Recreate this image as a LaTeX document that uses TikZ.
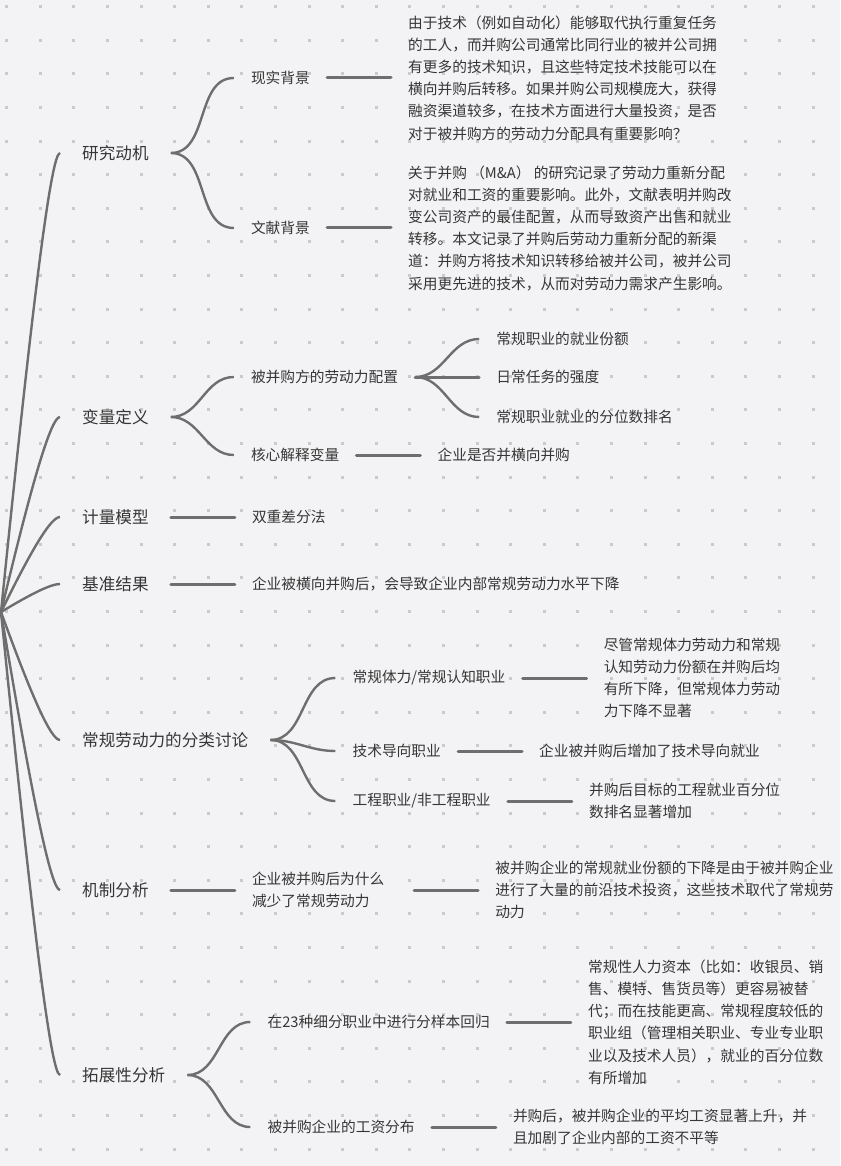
\documentclass[tikz,border=0pt]{standalone}
\usepackage{fontspec}
\setmainfont{Noto Sans CJK SC}
\usetikzlibrary{positioning, calc}
\definecolor{paper}{HTML}{F3F3F5}
\definecolor{griddot}{HTML}{CACACA}
\definecolor{lc}{HTML}{6E6E6E}
\definecolor{ink}{HTML}{363636}
\tikzset{
  topic/.style  = {anchor=west, inner xsep=22pt, inner ysep=2pt, text=ink,
                   font=\fontsize{16.6}{22}\selectfont},
  sub/.style    = {anchor=west, inner xsep=17pt, inner ysep=2pt, text=ink, align=left,
                   font=\fontsize{14.7}{22.2}\selectfont},
  branch/.style = {draw=lc, line width=2.4pt},
  link/.style   = {draw=lc, line width=3pt, line cap=round},
}

\begin{document}
\begin{tikzpicture}[x=1pt, y=-1pt, node distance=64pt]

\fill[paper] (0,0) rectangle (840,1166);
\useasboundingbox (0,0) rectangle (840,1166);
\foreach \i in {0,...,24}
  \foreach \j in {0,...,34}
    \fill[griddot] ({5.2+33.6*\i},{5.2+33.6*\j}) rectangle ++(3,3);

\coordinate (root) at (1,612);

\node[topic] (mot)  at (60,153)  {研究动机};
\node[topic] (var)  at (60,417)  {变量定义};
\node[topic] (eco)  at (60,517)  {计量模型};
\node[topic] (base) at (60,584)  {基准结果};
\node[topic] (cls)  at (60,740)  {常规劳动力的分类讨论};
\node[topic] (mech) at (60,890)  {机制分析};
\node[topic] (ext)  at (60,1075) {拓展性分析};

% 研究动机
\node[sub] (real) at ($(mot.east)+(63,-75)$) {现实背景};
\node[sub] (lit)  at ($(mot.east)+(63,75)$)  {文献背景};
\node[sub, right=of real] (realx)
  {由于技术（例如自动化）能够取代执行重复任务\\
   的工人，而并购公司通常比同行业的被并公司拥\\
   有更多的技术知识，且这些特定技术技能可以在\\
   横向并购后转移。如果并购公司规模庞大，获得\\
   融资渠道较多，在技术方面进行大量投资，是否\\
   对于被并购方的劳动力分配具有重要影响？};
\node[sub, right=of lit] (litx)
  {关于并购 （M\&A） 的研究记录了劳动力重新分配\\
   对就业和工资的重要影响。此外，文献表明并购改\\
   变公司资产的最佳配置，从而导致资产出售和就业\\
   转移。本文记录了并购后劳动力重新分配的新渠\\
   道：并购方将技术知识转移给被并公司，被并公司\\
   采用更先进的技术，从而对劳动力需求产生影响。};

% 变量定义
\node[sub] (alloc) at ($(var.east)+(63,-40)$) {被并购方的劳动力配置};
\node[sub] (core)  at ($(var.east)+(63,38)$)  {核心解释变量};
\node[sub] (alloca) at ($(alloc.east)+(64,-38)$) {常规职业的就业份额};
\node[sub, right=of alloc] (allocb) {日常任务的强度};
\node[sub] (allocc) at ($(alloc.east)+(64,40)$)  {常规职业就业的分位数排名};
\node[sub, right=of core] (corex) {企业是否并横向并购};

\node[sub, right=of eco]  (ecox)  {双重差分法};
\node[sub, right=of base] (basex) {企业被横向并购后，会导致企业内部常规劳动力水平下降};

% 常规劳动力的分类讨论
\node[sub] (clsa) at ($(cls.east)+(65,-62)$) {常规体力/常规认知职业};
\node[sub] (clsb) at ($(cls.east)+(65,11)$)  {技术导向职业};
\node[sub] (clsc) at ($(cls.east)+(65,61)$)  {工程职业/非工程职业};
\node[sub, right=of clsa] (clsax)
  {尽管常规体力劳动力和常规\\认知劳动力份额在并购后均\\有所下降，但常规体力劳动\\力下降不显著};
\node[sub, right=of clsb] (clsbx) {企业被并购后增加了技术导向就业};
\node[sub, right=of clsc] (clscx) {并购后目标的工程就业百分位\\数排名显著增加};

\node[sub, text width=145pt, right=of mech] (mecha) {企业被并购后为什么\\减少了常规劳动力};
\node[sub, right=of mecha] (mechx)
  {被并购企业的常规就业份额的下降是由于被并购企业\\
   进行了大量的前沿技术投资，这些技术取代了常规劳\\
   动力};

% 拓展性分析
\node[sub] (exta) at ($(ext.east)+(63,-53)$) {在23种细分职业中进行分样本回归};
\node[sub] (extb) at ($(ext.east)+(63,52)$)  {被并购企业的工资分布};
\node[sub, right=of exta] (extax)
  {常规性人力资本（比如：收银员、销\\
   售、模特、售货员等）更容易被替\\
   代；而在技能更高、常规程度较低的\\
   职业组（管理相关职业、专业专业职\\
   业以及技术人员），就业的百分位数\\
   有所增加};
\node[sub, right=of extb] (extbx)
  {并购后，被并购企业的平均工资显著上升，并\\且加剧了企业内部的工资不平等};

\foreach \n in {mot, var, eco, base, cls, mech, ext}
  \draw[branch] (root) .. controls ($(root)!0.667!(root|-\n.west)+(31,0)$)
    and ([xshift=-9pt]\n.west) .. (\n.west);

\foreach \a/\b in {mot/real, mot/lit, var/alloc, var/core, alloc/alloca, alloc/allocc,
                   cls/clsa, cls/clsb, cls/clsc, ext/exta, ext/extb}
  \draw[branch] (\a.east) to[out=0, in=180] (\b.west);

\foreach \a/\b in {real/realx, lit/litx, alloc/allocb, core/corex, eco/ecox, base/basex,
                   clsa/clsax, clsb/clsbx, clsc/clscx, mech/mecha, mecha/mechx,
                   exta/extax, extb/extbx}
  \draw[link] (\a.east) -- (\b.west);

\end{tikzpicture}
\end{document}
